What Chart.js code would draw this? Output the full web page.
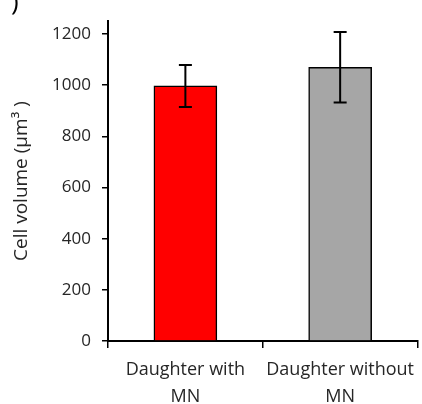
<!DOCTYPE html>
<html>
<head>
<meta charset="utf-8">
<script src="https://cdn.jsdelivr.net/npm/chart.js@4"></script>
<style>
  html, body { margin: 0; padding: 0; background: #fff; }
  #wrap { width: 422px; height: 404px; position: relative; }
</style>
</head>
<body>
<div id="wrap"><canvas id="grafico"></canvas></div>
<script>
// data
const categories = [['Daughter with', 'MN'], ['Daughter without', 'MN']];
const volumeMean = [997, 1070];
const volumeErr = [82, 138];
const barColors = ['#FF0000', '#A6A6A6'];
const yTicks = [0, 200, 400, 600, 800, 1000, 1200];

const FONT = '"Open Sans", "DejaVu Sans", sans-serif';
const TXT = '#262626';

// error bars drawn through the y scale
const errorBars = {
    id: 'errorBars',
    afterDatasetsDraw(chart) {
        const c = chart.ctx;
        const y = chart.scales.y;
        const meta = chart.getDatasetMeta(0);
        c.save();
        c.strokeStyle = '#000';
        c.lineWidth = 2;
        meta.data.forEach((bar, i) => {
            const x = bar.x;
            const top = y.getPixelForValue(volumeMean[i] + volumeErr[i]);
            const bot = y.getPixelForValue(volumeMean[i] - volumeErr[i]);
            c.beginPath();
            c.moveTo(x, top); c.lineTo(x, bot);
            c.moveTo(x - 6.5, top); c.lineTo(x + 6.5, top);
            c.moveTo(x - 6.5, bot); c.lineTo(x + 6.5, bot);
            c.stroke();
        });
        c.restore();
    }
};

// panel letter, cropped at the top-left like in the figure
const panelLabel = {
    id: 'panelLabel',
    afterDraw(chart) {
        const c = chart.ctx;
        c.save();
        c.fillStyle = '#000';
        c.font = '26px ' + FONT;
        c.fillText(')', 11, 10);
        c.restore();
    }
};

new Chart(document.getElementById('grafico'), {
    type: 'bar',
    data: {
        labels: categories,
        datasets: [{
            data: volumeMean,
            backgroundColor: barColors,
            borderColor: '#000',
            borderWidth: 1.5,
            barThickness: 63
        }]
    },
    options: {
        responsive: true,
        maintainAspectRatio: false,
        animation: false,
        layout: { padding: { top: 9, right: -4, left: 0, bottom: 0 } },
        plugins: { legend: { display: false }, tooltip: { enabled: false } },
        scales: {
            x: {
                grid: { offset: true, drawOnChartArea: false, color: '#000', lineWidth: 1.5, tickLength: 7 },
                border: { color: '#000', width: 2 },
                ticks: { color: TXT, font: { family: FONT, size: 18, lineHeight: 1.5 }, padding: 8, maxRotation: 0 },
                afterFit(s) { s.height = 63; }
            },
            y: {
                min: 0,
                max: 1250,
                grid: { drawOnChartArea: false, color: '#000', lineWidth: 1.5, tickLength: 6 },
                border: { color: '#000', width: 2 },
                ticks: {
                    color: TXT, font: { family: FONT, size: 17 }, padding: 11,
                    callback: v => String(v)
                },
                afterBuildTicks(s) { s.ticks = yTicks.map(v => ({ value: v })); },
                title: {
                    display: true,
                    text: 'Cell volume (μm³ )',
                    color: TXT,
                    font: { family: FONT, size: 19 },
                    padding: { top: 10, bottom: 0 }
                },
                afterFit(s) { s.width = 108; }
            }
        }
    },
    plugins: [errorBars, panelLabel]
});
</script>
</body>
</html>
